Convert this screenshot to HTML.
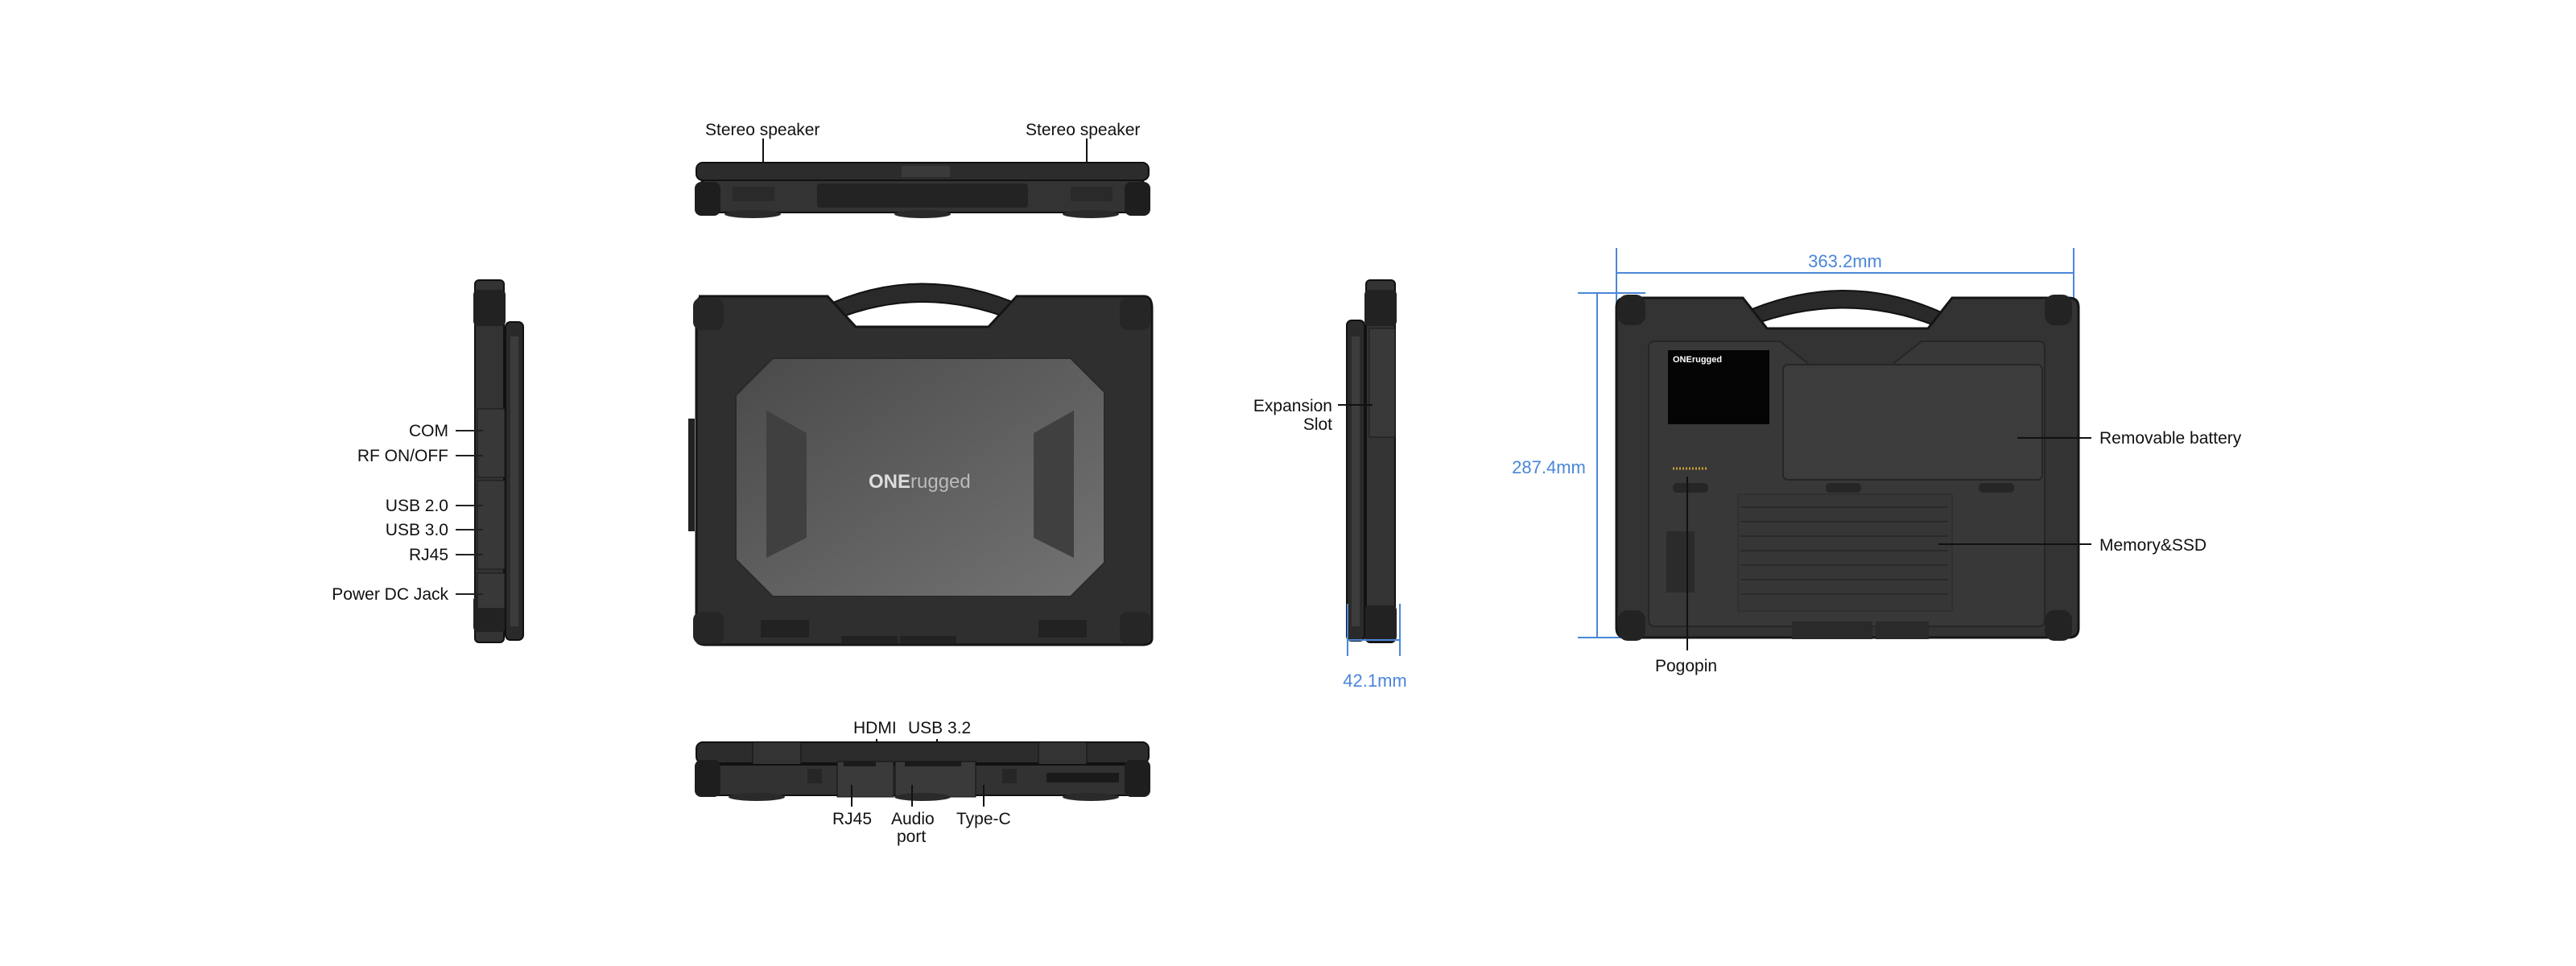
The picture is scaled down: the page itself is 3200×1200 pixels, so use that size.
<!DOCTYPE html>
<html><head><meta charset="utf-8"><style>
html,body{margin:0;padding:0;background:#fff;}
svg{display:block}
text{font-family:"Liberation Sans",sans-serif;font-size:21px;fill:#111}
.b{fill:#4a86d8;font-size:22px}
</style></head><body>
<svg width="3200" height="1200" viewBox="0 0 3200 1200" xmlns="http://www.w3.org/2000/svg">
<defs>
<linearGradient id="pg" x1="0" y1="0" x2="1" y2="1"><stop offset="0" stop-color="#4a4a4a"/><stop offset="1" stop-color="#737373"/></linearGradient>
<linearGradient id="dk" x1="0" y1="0" x2="0" y2="1"><stop offset="0" stop-color="#3a3a3a"/><stop offset="1" stop-color="#262626"/></linearGradient>
</defs>
<g stroke="#111" stroke-width="2" fill="none">
<!-- top view lines -->
<line x1="948" y1="172" x2="948" y2="228"/><line x1="1350" y1="172" x2="1350" y2="228"/>
</g>
<!-- TOP VIEW -->
<text x="876" y="168">Stereo speaker</text>
<text x="1274" y="168">Stereo speaker</text>
<rect x="865" y="202" width="562" height="22" rx="8" fill="#2c2c2c" stroke="#111" stroke-width="2"/>
<rect x="1120" y="206" width="60" height="14" fill="#3a3a3a"/>
<rect x="870" y="224" width="552" height="40" rx="6" fill="#333" stroke="#111" stroke-width="2"/>
<rect x="1015" y="228" width="262" height="30" rx="4" fill="#232323"/>
<rect x="863" y="226" width="32" height="42" rx="8" fill="#1e1e1e"/>
<rect x="1397" y="226" width="32" height="42" rx="8" fill="#1e1e1e"/>
<rect x="910" y="232" width="52" height="18" fill="#2a2a2a"/><rect x="1330" y="232" width="52" height="18" fill="#2a2a2a"/>
<ellipse cx="935" cy="266" rx="35" ry="5" fill="#2a2a2a"/><ellipse cx="1146" cy="266" rx="35" ry="5" fill="#2a2a2a"/><ellipse cx="1355" cy="266" rx="35" ry="5" fill="#2a2a2a"/>
<!-- LID VIEW -->
<path d="M1015 385 Q1145 320 1280 385 L1265 400 Q1145 350 1030 400 Z" fill="#2a2a2a" stroke="#111" stroke-width="2"/>
<path d="M868 368 h160 l35 38 h165 l35 -38 h158 q10 0 10 15 v410 q0 8 -12 8 h-542 q-12 0 -12 -8 v-410 q0 -15 10 -15z" fill="#2f2f2f" stroke="#151515" stroke-width="3"/>
<rect x="861" y="370" width="38" height="40" rx="10" fill="#262626"/><rect x="1391" y="370" width="38" height="40" rx="10" fill="#262626"/>
<rect x="861" y="760" width="38" height="40" rx="10" fill="#262626"/><rect x="1391" y="760" width="38" height="40" rx="10" fill="#262626"/>
<path d="M960 445 h370 l42 42 v212 l-42 42 h-370 l-46 -46 v-204 z" fill="url(#pg)" stroke="#2a2a2a" stroke-width="2"/>
<path d="M952 510 l50 28 v130 l-50 25 z" fill="#404040"/>
<path d="M1334 510 l-50 28 v130 l50 25 z" fill="#404040"/>
<text x="1079" y="606" style="fill:#ddd;font-size:24px;font-weight:bold">ONE<tspan style="font-weight:normal;fill:#bbb">rugged</tspan></text>
<rect x="945" y="770" width="60" height="22" fill="#222"/><rect x="1290" y="770" width="60" height="22" fill="#222"/>
<rect x="1045" y="790" width="70" height="10" fill="#222"/><rect x="1118" y="790" width="70" height="10" fill="#222"/>
<rect x="855" y="520" width="8" height="140" fill="#222"/>
<!-- BOTTOM VIEW -->
<text x="1060" y="911">HDMI</text><text x="1128" y="911">USB 3.2</text>
<line x1="1089" y1="918" x2="1089" y2="960" stroke="#111" stroke-width="2"/>
<line x1="1164" y1="918" x2="1164" y2="960" stroke="#111" stroke-width="2"/>
<rect x="865" y="922" width="562" height="26" rx="8" fill="#2c2c2c" stroke="#111" stroke-width="2"/>
<rect x="935" y="922" width="60" height="40" fill="#333" stroke="#111"/><rect x="1290" y="922" width="60" height="40" fill="#333" stroke="#111"/>
<rect x="870" y="950" width="552" height="38" rx="5" fill="#323232" stroke="#111" stroke-width="2"/>
<rect x="1040" y="946" width="70" height="44" fill="#3a3a3a" stroke="#111"/><rect x="1112" y="946" width="100" height="44" fill="#3a3a3a" stroke="#111"/>
<rect x="1048" y="946" width="40" height="6" fill="#1a1a1a"/><rect x="1124" y="946" width="70" height="6" fill="#1a1a1a"/>
<rect x="1003" y="955" width="18" height="18" fill="#262626"/><rect x="1245" y="955" width="18" height="18" fill="#262626"/>
<rect x="1300" y="960" width="90" height="12" fill="#1a1a1a"/>
<rect x="863" y="944" width="32" height="46" rx="8" fill="#1e1e1e"/><rect x="1397" y="944" width="32" height="46" rx="8" fill="#1e1e1e"/>
<ellipse cx="940" cy="990" rx="35" ry="5" fill="#2a2a2a"/><ellipse cx="1146" cy="990" rx="35" ry="5" fill="#2a2a2a"/><ellipse cx="1355" cy="990" rx="35" ry="5" fill="#2a2a2a"/>
<g stroke="#111" stroke-width="2"><line x1="1058" y1="975" x2="1058" y2="1002"/><line x1="1133" y1="975" x2="1133" y2="1002"/><line x1="1222" y1="975" x2="1222" y2="1002"/></g>
<text x="1034" y="1024">RJ45</text><text x="1107" y="1024">Audio</text><text x="1114" y="1046">port</text><text x="1188" y="1024">Type-C</text>
<!-- LEFT SIDE VIEW -->
<rect x="590" y="348" width="36" height="450" rx="5" fill="#333" stroke="#111" stroke-width="2"/>
<rect x="588" y="360" width="40" height="45" rx="6" fill="#222"/>
<rect x="588" y="740" width="40" height="45" rx="6" fill="#222"/>
<rect x="628" y="400" width="22" height="395" rx="6" fill="#2a2a2a" stroke="#111" stroke-width="2"/>
<rect x="634" y="418" width="10" height="360" fill="#3c3c3c"/>
<rect x="593" y="508" width="34" height="85" fill="#383838" stroke="#1a1a1a"/>
<rect x="593" y="597" width="34" height="110" fill="#383838" stroke="#1a1a1a"/>
<rect x="593" y="712" width="34" height="44" fill="#383838" stroke="#1a1a1a"/>
<g text-anchor="end"><text x="557" y="542">COM</text><text x="557" y="573">RF ON/OFF</text><text x="557" y="635">USB 2.0</text><text x="557" y="665">USB 3.0</text><text x="557" y="696">RJ45</text><text x="557" y="745">Power DC Jack</text></g>
<g stroke="#222" stroke-width="2"><line x1="566" y1="535" x2="600" y2="535"/><line x1="566" y1="566" x2="600" y2="566"/><line x1="566" y1="628" x2="600" y2="628"/><line x1="566" y1="658" x2="600" y2="658"/><line x1="566" y1="689" x2="600" y2="689"/><line x1="566" y1="738" x2="600" y2="738"/></g>
<!-- MIDDLE SIDE VIEW -->
<rect x="1697" y="348" width="36" height="450" rx="5" fill="#333" stroke="#111" stroke-width="2"/>
<rect x="1695" y="360" width="40" height="45" rx="6" fill="#222"/><rect x="1695" y="752" width="40" height="45" rx="6" fill="#222"/>
<rect x="1673" y="398" width="22" height="398" rx="6" fill="#2a2a2a" stroke="#111" stroke-width="2"/>
<rect x="1679" y="418" width="10" height="360" fill="#3c3c3c"/>
<rect x="1701" y="408" width="32" height="135" fill="#393939" stroke="#1a1a1a"/>
<text x="1655" y="511" text-anchor="end">Expansion</text><text x="1655" y="534" text-anchor="end">Slot</text>
<line x1="1662" y1="503" x2="1705" y2="503" stroke="#111" stroke-width="2"/>
<g stroke="#4a86d8" stroke-width="2"><line x1="1674" y1="750" x2="1674" y2="815"/><line x1="1739" y1="750" x2="1739" y2="815"/><line x1="1674" y1="795" x2="1739" y2="795"/></g>
<text class="b" x="1708" y="853" text-anchor="middle">42.1mm</text>
<!-- BACK VIEW -->
<g stroke="#4a86d8" stroke-width="2"><line x1="2008" y1="308" x2="2008" y2="440"/><line x1="2576" y1="308" x2="2576" y2="440"/><line x1="2008" y1="339" x2="2576" y2="339"/>
<line x1="1984" y1="364" x2="1984" y2="792"/><line x1="1960" y1="364" x2="2044" y2="364"/><line x1="1960" y1="792" x2="2044" y2="792"/></g>
<text class="b" x="2292" y="332" text-anchor="middle">363.2mm</text>
<text class="b" x="1924" y="588" text-anchor="middle">287.4mm</text>
<path d="M2158 392 Q2292 330 2420 392 L2405 405 Q2292 360 2173 405 Z" fill="#2a2a2a" stroke="#111" stroke-width="2"/>
<path d="M2020 370 h145 l30 38 h200 l30 -38 h145 q12 0 12 12 v398 q0 12 -12 12 h-550 q-12 0 -12 -12 v-398 q0 -12 12 -12z" fill="#333" stroke="#151515" stroke-width="3"/>
<rect x="2010" y="366" width="34" height="38" rx="12" fill="#232323"/><rect x="2540" y="366" width="34" height="38" rx="12" fill="#232323"/>
<rect x="2010" y="758" width="34" height="38" rx="12" fill="#232323"/><rect x="2540" y="758" width="34" height="38" rx="12" fill="#232323"/>
<path d="M2056 424 h155 l38 30 h100 l38 -30 h145 q8 0 8 8 v338 q0 8 -8 8 h-476 q-8 0 -8 -8 v-338 q0 -8 8 -8z" fill="#383838" stroke="#262626" stroke-width="2"/>
<rect x="2072" y="435" width="126" height="92" fill="#050505"/>
<text x="2078" y="450" style="fill:#fff;font-size:11px;font-weight:bold">ONErugged</text>
<rect x="2215" y="453" width="322" height="143" rx="6" fill="#3c3c3c" stroke="#262626" stroke-width="2"/>
<rect x="2159" y="614" width="266" height="145" fill="#363636" stroke="#2a2a2a"/>
<g stroke="#2a2a2a" stroke-width="2">
<line x1="2162" y1="630" x2="2420" y2="630"/><line x1="2162" y1="648" x2="2420" y2="648"/><line x1="2162" y1="666" x2="2420" y2="666"/><line x1="2162" y1="684" x2="2420" y2="684"/><line x1="2162" y1="702" x2="2420" y2="702"/><line x1="2162" y1="720" x2="2420" y2="720"/><line x1="2162" y1="738" x2="2420" y2="738"/></g>
<rect x="2070" y="660" width="35" height="76" fill="#2b2b2b"/>
<rect x="2078" y="600" width="44" height="12" rx="5" fill="#262626"/><rect x="2268" y="600" width="44" height="12" rx="5" fill="#262626"/><rect x="2458" y="600" width="44" height="12" rx="5" fill="#262626"/>
<line x1="2078" y1="582" x2="2122" y2="582" stroke="#c9a030" stroke-width="3" stroke-dasharray="2 2"/>
<rect x="2226" y="772" width="100" height="22" fill="#2a2a2a"/><rect x="2330" y="772" width="66" height="22" fill="#2a2a2a"/>
<g stroke="#111" stroke-width="2"><line x1="2506" y1="544" x2="2598" y2="544"/><line x1="2408" y1="676" x2="2598" y2="676"/><line x1="2096" y1="592" x2="2096" y2="808"/></g>
<text x="2608" y="551">Removable battery</text>
<text x="2608" y="684">Memory&amp;SSD</text>
<text x="2056" y="834">Pogopin</text>
</svg>
</body></html>
